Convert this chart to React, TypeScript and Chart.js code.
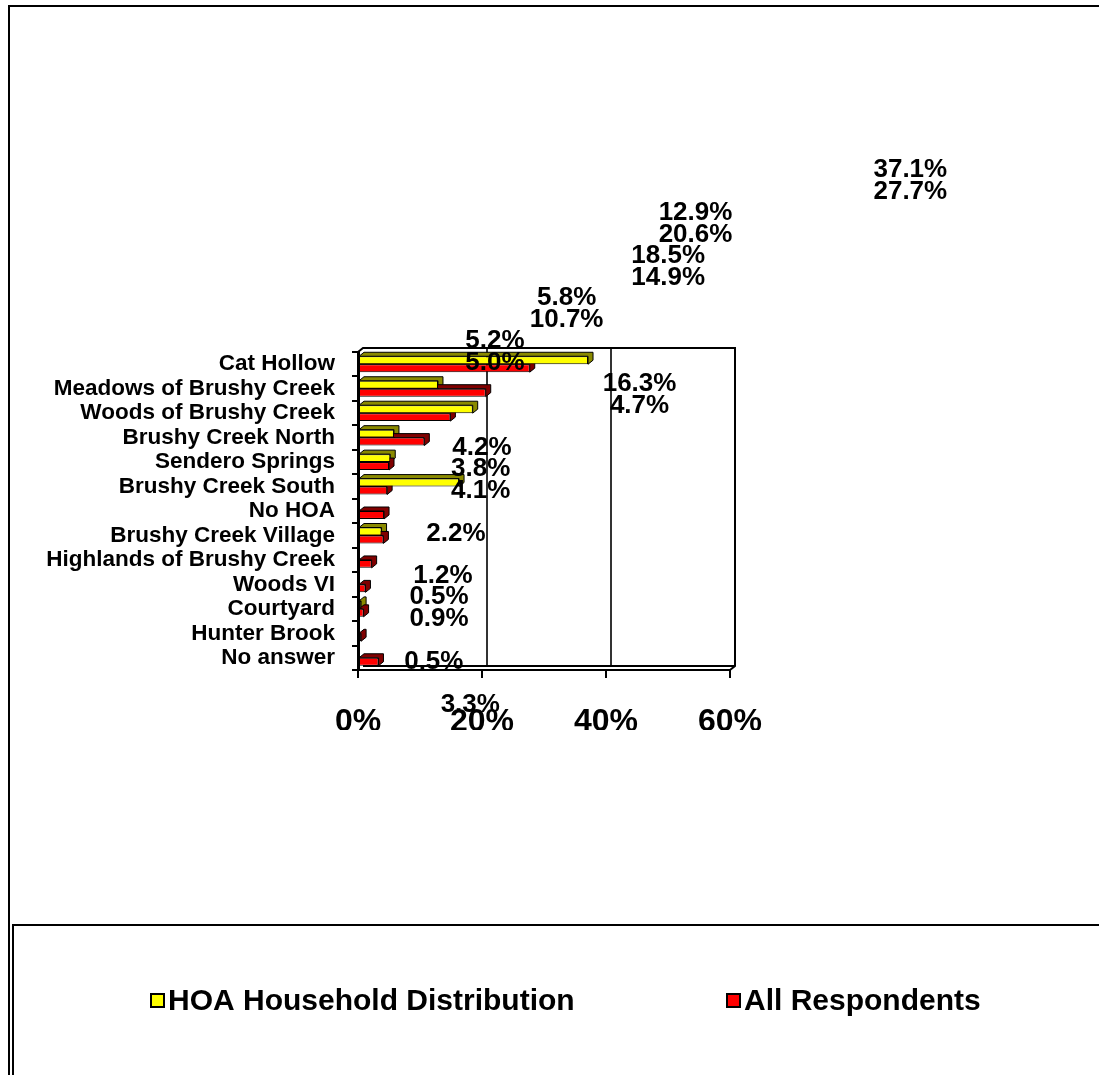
import React, { useEffect, useRef } from 'react';
import { Chart, registerables } from 'chart.js';

Chart.register(...registerables);

// ---- data ----
const categories = [
  'Cat Hollow',
  'Meadows of Brushy Creek',
  'Woods of Brushy Creek',
  'Brushy Creek North',
  'Sendero Springs',
  'Brushy Creek South',
  'No HOA',
  'Brushy Creek Village',
  'Highlands of Brushy Creek',
  'Woods VI',
  'Courtyard',
  'Hunter Brook',
  'No answer',
];
const hoaDistribution: (number | null)[] = [37.1, 12.9, 18.5, 5.8, 5.2, 16.3, null, 3.8, null, null, 0.5, null, null];
const allRespondents: (number | null)[] = [27.7, 20.6, 14.9, 10.7, 5.0, 4.7, 4.2, 4.1, 2.2, 1.2, 0.9, 0.5, 3.3];
const seriesNames = ['HOA Household Distribution', 'All Respondents'];
const xTicks = [0, 20, 40, 60];

// ---- style ----
const FONT = '"Liberation Sans", Arial, Helvetica, sans-serif';
const COLORS = ['#FFFF00', '#FF0000'];
const DEPTH_COLORS = ['#8a8a00', '#800000'];
const DX = 5;
const DY = 4;
// label placement (the source renders its labels in an enlarged frame)
const PIVOT_X = 295;
const SCALE_X = 2.1;
const PIVOT_Y = 610;
const SCALE_Y = 1.745;

const framePlugin = {
  id: 'frame',
  beforeDraw(chart: any) {
    const ctx = chart.ctx;
    ctx.save();
    ctx.fillStyle = '#fff';
    ctx.fillRect(0, 0, chart.width, chart.height);
    ctx.strokeStyle = '#000';
    ctx.lineWidth = 2;
    ctx.beginPath();
    ctx.moveTo(9, chart.height);
    ctx.lineTo(9, 6);
    ctx.lineTo(chart.width, 6);
    ctx.moveTo(13, chart.height);
    ctx.lineTo(13, 925);
    ctx.lineTo(chart.width, 925);
    ctx.stroke();
    ctx.restore();
  },
};

const wallPlugin = {
  id: 'wall3d',
  beforeDatasetsDraw(chart: any) {
    const ctx = chart.ctx;
    const { left, right, top, bottom } = chart.chartArea;
    const xs = chart.scales.x;
    ctx.save();
    ctx.strokeStyle = '#333';
    ctx.lineWidth = 2;
    xTicks.forEach((v) => {
      if (v <= xs.min || v >= xs.max) return;
      const x = xs.getPixelForValue(v) + DX;
      ctx.beginPath();
      ctx.moveTo(x, top - DY);
      ctx.lineTo(x, bottom - DY);
      ctx.stroke();
    });
    ctx.strokeStyle = '#000';
    ctx.beginPath();
    ctx.moveTo(left, top);
    ctx.lineTo(left + DX, top - DY);
    ctx.lineTo(right + DX, top - DY);
    ctx.lineTo(right + DX, bottom - DY);
    ctx.lineTo(right, bottom);
    ctx.moveTo(left + DX, bottom - DY);
    ctx.lineTo(right + DX, bottom - DY);
    ctx.stroke();

    chart.data.datasets.forEach((ds: any, di: number) => {
      const meta = chart.getDatasetMeta(di);
      meta.data.forEach((el: any, i: number) => {
        const v = ds.data[i];
        if (v === null || v === undefined) return;
        const p = el.getProps(['x', 'y', 'base', 'height'], true);
        const x0 = Math.min(p.base, p.x);
        const x1 = Math.max(p.base, p.x);
        const y0 = p.y - p.height / 2;
        const y1 = p.y + p.height / 2;
        ctx.fillStyle = DEPTH_COLORS[di];
        ctx.strokeStyle = '#000';
        ctx.lineWidth = 1;
        ctx.beginPath();
        ctx.moveTo(x0, y0);
        ctx.lineTo(x0 + DX, y0 - DY);
        ctx.lineTo(x1 + DX, y0 - DY);
        ctx.lineTo(x1 + DX, y1 - DY);
        ctx.lineTo(x1, y1);
        ctx.lineTo(x1, y0);
        ctx.closePath();
        ctx.fill();
        ctx.stroke();
      });
    });
    ctx.restore();
  },
};

const labelPlugin = {
  id: 'scatteredLabels',
  afterDatasetsDraw(chart: any) {
    const ctx = chart.ctx;
    const xs = chart.scales.x;
    const ys = chart.scales.y;
    ctx.save();
    ctx.font = `bold 26px ${FONT}`;
    ctx.fillStyle = '#000';
    ctx.textAlign = 'center';
    ctx.textBaseline = 'middle';
    categories.forEach((_c, i) => {
      const a = hoaDistribution[i] ?? 0;
      const b = allRespondents[i] ?? 0;
      const yC = ys.getPixelForValue(i);
      const endX = xs.getPixelForValue(Math.max(a, b));
      const lx = PIVOT_X + SCALE_X * (endX - PIVOT_X);
      const ly = PIVOT_Y + SCALE_Y * (yC - PIVOT_Y);
      if (a) ctx.fillText(a.toFixed(1) + '%', lx, ly - 11);
      if (b) ctx.fillText(b.toFixed(1) + '%', lx, ly + 11);
    });
    ctx.restore();
  },
};

const legendPlugin = {
  id: 'customLegend',
  afterDraw(chart: any) {
    const ctx = chart.ctx;
    const starts = [151, 727];
    const yMid = 1001;
    ctx.save();
    ctx.font = `bold 30px ${FONT}`;
    ctx.textAlign = 'left';
    ctx.textBaseline = 'middle';
    chart.data.datasets.forEach((ds: any, k: number) => {
      const x = starts[k];
      ctx.fillStyle = ds.backgroundColor;
      ctx.fillRect(x, yMid - 7, 13, 13);
      ctx.strokeStyle = '#000';
      ctx.lineWidth = 2;
      ctx.strokeRect(x, yMid - 7, 13, 13);
      ctx.fillStyle = '#000';
      ctx.fillText(ds.label, x + 17, yMid + 1);
    });
    ctx.restore();
  },
};

export default function App() {
  const canvasRef = useRef<HTMLCanvasElement | null>(null);

  useEffect(() => {
    if (!canvasRef.current) return;
    const chart = new Chart(canvasRef.current, {
      type: 'bar',
      data: {
        labels: categories,
        datasets: [
          {
            label: seriesNames[0],
            data: hoaDistribution as any,
            backgroundColor: COLORS[0],
            borderColor: '#000',
            borderWidth: 1,
            borderSkipped: false,
            categoryPercentage: 0.65,
            barPercentage: 1.0,
          },
          {
            label: seriesNames[1],
            data: allRespondents as any,
            backgroundColor: COLORS[1],
            borderColor: '#000',
            borderWidth: 1,
            borderSkipped: false,
            categoryPercentage: 0.65,
            barPercentage: 1.0,
          },
        ],
      },
      options: {
        indexAxis: 'y',
        responsive: false,
        animation: false,
        devicePixelRatio: 1,
        layout: { padding: { left: 0, top: 352, right: 369, bottom: 345 } },
        plugins: {
          legend: { display: false },
          tooltip: { enabled: false },
        },
        scales: {
          y: {
            type: 'category',
            grid: {
              display: true,
              drawOnChartArea: false,
              drawTicks: true,
              tickLength: 6,
              color: '#000',
              lineWidth: 2,
              offset: true,
            },
            border: { display: true, color: '#000', width: 3 },
            ticks: {
              autoSkip: false,
              padding: 17,
              color: '#000',
              font: { family: FONT, size: 22.5, weight: 'bold', lineHeight: 1 },
            },
            afterFit: (s: any) => {
              s.width = 358;
            },
          },
          x: {
            type: 'linear',
            min: 0,
            max: 60,
            afterBuildTicks: (s: any) => {
              s.ticks = xTicks.map((v) => ({ value: v }));
            },
            grid: {
              drawOnChartArea: false,
              drawTicks: true,
              tickLength: 8,
              color: '#000',
              lineWidth: 2,
            },
            border: { display: true, color: '#000', width: 2 },
            ticks: {
              autoSkip: false,
              padding: 25,
              color: '#000',
              font: { family: FONT, size: 32, weight: 'bold' },
              callback: (v: any) => v + '%',
            },
            afterFit: (s: any) => {
              s.height = 60;
            },
          },
        },
      },
      plugins: [framePlugin, wallPlugin, labelPlugin, legendPlugin],
    } as any);
    return () => chart.destroy();
  }, []);

  return (
    <div style={{ position: 'absolute', left: 0, top: 0, width: 1099, height: 1075 }}>
      <canvas ref={canvasRef} width={1099} height={1075} style={{ display: 'block' }} />
    </div>
  );
}
